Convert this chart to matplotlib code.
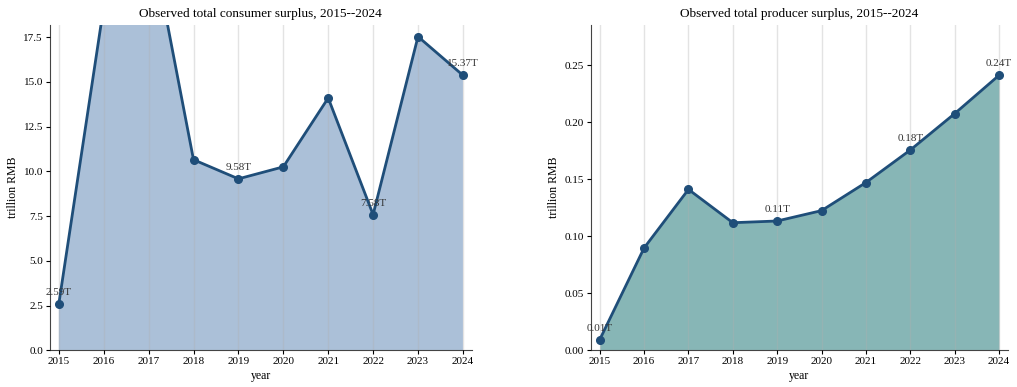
import matplotlib
matplotlib.use("Agg")
import matplotlib.pyplot as plt

plt.rcParams["font.family"] = ["Liberation Serif", "DejaVu Serif"]

years = [2015, 2016, 2017, 2018, 2019, 2020, 2021, 2022, 2023, 2024]
consumer = [2.59, 19.2, 23.7, 10.65, 9.58, 10.25, 14.1, 7.58, 17.53, 15.37]
producer = [0.0093, 0.0897, 0.141, 0.1118, 0.1133, 0.1224, 0.147, 0.1755, 0.2074, 0.241]
label_years = [2015, 2019, 2022, 2024]

line_color = "#1f4e79"


def draw_panel(ax, values, fill_color, title, ymax):
    ax.set_axisbelow(False)
    ax.grid(axis="x", color="#b0b0b0", alpha=0.35, linewidth=1)
    ax.fill_between(years, values, 0, color=fill_color, alpha=0.75, zorder=1, linewidth=0)
    ax.plot(years, values, color=line_color, linewidth=2, marker="o",
            markersize=5.5, zorder=3)
    for yr, v in zip(years, values):
        if yr in label_years:
            ax.annotate(f"{v:.2f}T", (yr, v), xytext=(0, 5), textcoords="offset points",
                        ha="center", va="bottom", fontsize=8, color="#333333", zorder=4)
    ax.set_xlim(2014.8, 2024.2)
    ax.set_ylim(0, ymax)
    ax.set_xticks(years)
    ax.set_xlabel("year", fontsize=8.5, labelpad=3)
    ax.set_ylabel("trillion RMB", fontsize=8.5, labelpad=3)
    ax.set_title(title, fontsize=9.5, pad=6)
    ax.tick_params(labelsize=8, length=3, pad=2)
    for side in ["top", "right"]:
        ax.spines[side].set_visible(False)
    for side in ["left", "bottom"]:
        ax.spines[side].set_color("#444444")


fig = plt.figure(figsize=(10.17, 3.87), dpi=100)
ax1 = fig.add_axes([0.049, 0.095, 0.415, 0.84])
ax2 = fig.add_axes([0.581, 0.095, 0.410, 0.84])
draw_panel(ax1, consumer, "#8fabcc", "Observed total consumer surplus, 2015--2024", 18.17)
draw_panel(ax2, producer, "#5f9e9e", "Observed total producer surplus, 2015--2024", 0.285)

fig.savefig("out.png")
